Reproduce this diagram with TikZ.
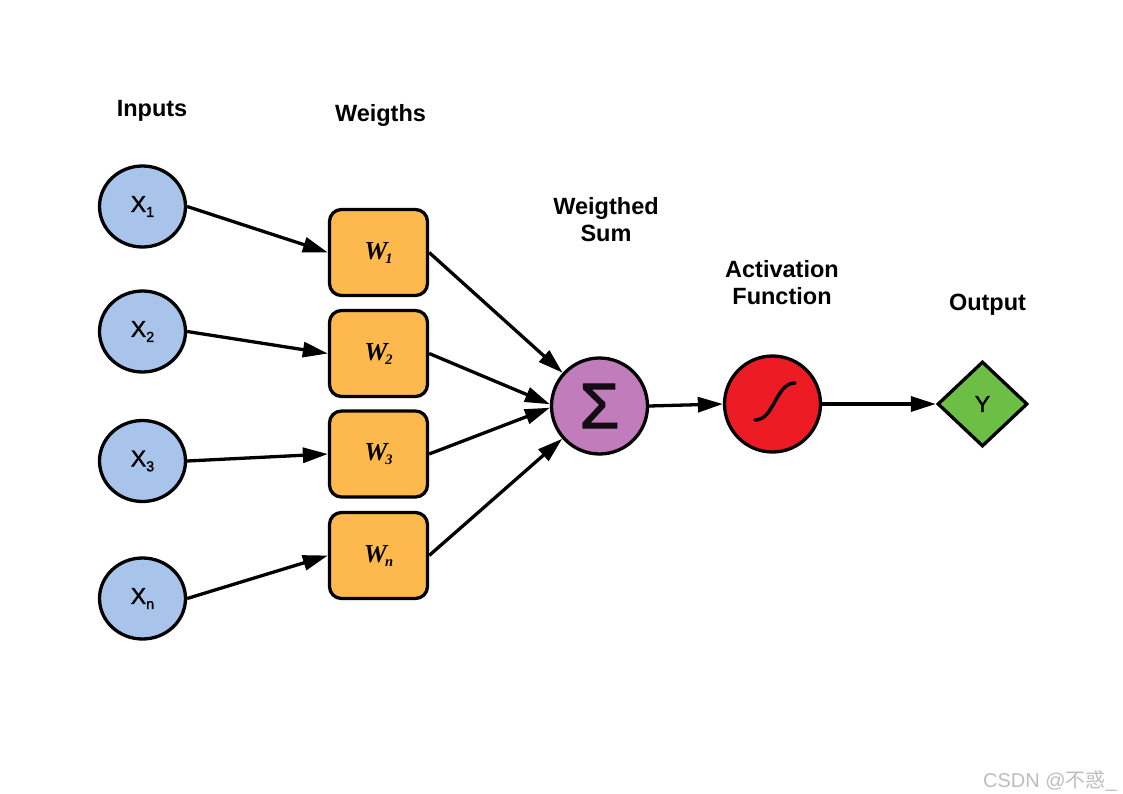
\documentclass[tikz,border=0pt]{standalone}
\usepackage{fontspec}
\setmainfont{Liberation Sans}
\newfontfamily\wfont{Liberation Serif}
\newfontfamily\xfont{Liberation Sans}[FakeBold=1.5]
\newfontfamily\sigfont{Liberation Sans}[FakeBold=2]
\newfontfamily\cjk{Noto Sans CJK SC}
\usetikzlibrary{arrows.meta,shapes.geometric}
\definecolor{inpc}{HTML}{A9C4EB}
\definecolor{boxc}{HTML}{FDB94E}
\definecolor{sumc}{HTML}{C07CBB}
\definecolor{actc}{HTML}{ED1C24}
\definecolor{outc}{HTML}{6DBE45}
\definecolor{wmc}{HTML}{BDBDBD}
\newcommand\mysub[2]{\raisebox{-#2pt}{\fontsize{14.5}{14.5}\selectfont #1}}
\begin{document}
\begin{tikzpicture}[x=1pt,y=-1pt,
  lw/.style={line width=3.3pt},
  inp/.style={ellipse, draw, lw, fill=inpc, minimum width=86pt, minimum height=81pt,
    inner sep=0pt, font=\xfont\fontsize{23}{23}\selectfont},
  wbox/.style={rectangle, rounded corners=12pt, draw, lw, fill=boxc,
    minimum width=98pt, minimum height=86pt, inner sep=0pt,
    font=\wfont\bfseries\itshape\fontsize{26}{26}\selectfont},
  bigc/.style={circle, draw, lw, minimum size=96pt, inner sep=0pt},
  conn/.style={lw, -{Triangle[length=25pt,width=15pt]}},
  lbl/.style={font=\bfseries\fontsize{23.5}{27}\selectfont, align=center, inner sep=0pt},
]
\useasboundingbox (0,0) rectangle (1123,794);

% labels
\node[lbl, anchor=base] (linp) at (152,117) {Inputs};
\node[lbl, anchor=base] (lw) at (380.5,122) {Weigths};
\node[lbl] (lsum) at (606,220) {Weigthed\\Sum};
\node[lbl] (lact) at (782,282.5) {Activation\\Function};
\node[lbl, anchor=base] (lout) at (987.5,310) {Output};

% inputs
\node[inp] (x1) at (142.5,206.5) {X\mysub{1}{5}};
\node[inp] (x2) at (142.5,331.5) {X\mysub{2}{5}};
\node[inp] (x3) at (142.5,461) {X\mysub{3}{5}};
\node[inp] (xn) at (142.5,598.5) {X\mysub{n}{5}};

% weights
\node[wbox] (w1) at (378.5,252.5) {W\kern-2pt\mysub{1}{4}};
\node[wbox] (w2) at (378.5,353.5) {W\kern-2pt\mysub{2}{4}};
\node[wbox] (w3) at (378.5,454) {W\kern-2pt\mysub{3}{4}};
\node[wbox] (wn) at (378.5,555.5) {W\kern-2pt\mysub{n}{4}};

% sum, activation, output
\node[bigc, fill=sumc, font=\sigfont\fontsize{64}{64}\selectfont, text=black!90!sumc] (sum) at (599.5,406) {Σ};
\node[bigc, fill=actc] (act) at (772.5,404) {};
\node[diamond, draw, lw, fill=outc, minimum width=90pt, minimum height=85pt, inner sep=0pt,
  font=\xfont\fontsize{23}{23}\selectfont] (out) at (982.5,404) {Y};

% sigmoid
\draw[line width=3.4pt, line cap=round]
  ([shift={(-17.5,16)}]act.center) .. controls ([shift={(2,16)}]act.center) and ([shift={(3,-21)}]act.center) .. ([shift={(22.5,-21)}]act.center);

% connectors
\draw[conn] (x1.east) -- (w1.west);
\draw[conn] (x2.east) -- (w2.west);
\draw[conn] (x3.east) -- (w3.west);
\draw[conn] (xn.east) -- (wn.west);
\draw[conn] (w1.east) -- (sum);
\draw[conn] (w2.east) -- (sum.178);
\draw[conn] (w3.east) -- (sum.182);
\draw[conn] (wn.east) -- (sum);
\draw[conn] (sum.east) -- (act.west);
\draw[conn] (act.east) -- (out.west);

% watermark
\node[anchor=base west, inner sep=0pt, text=wmc, font=\fontsize{20}{20}\selectfont] (wm) at (983,787) {CSDN @{\cjk 不惑}\_};
\end{tikzpicture}
\end{document}
